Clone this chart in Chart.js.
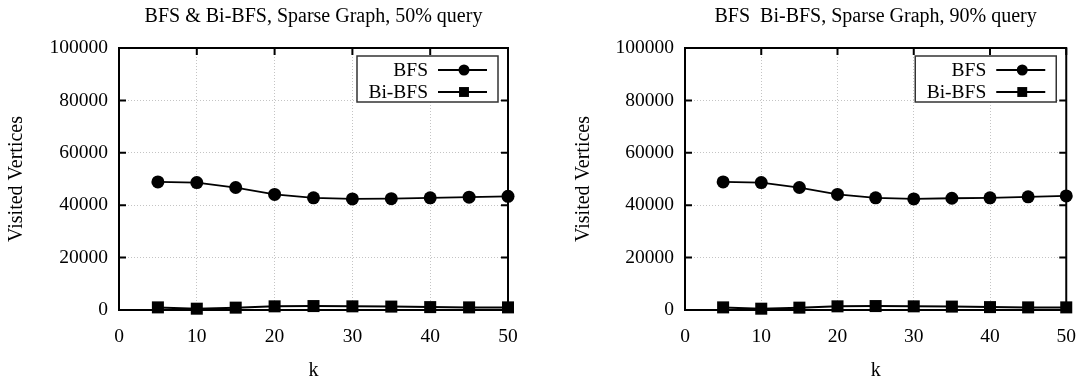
<!DOCTYPE html>
<html>
<head>
<meta charset="utf-8">
<script src="https://cdn.jsdelivr.net/npm/chart.js@4.4.1/dist/chart.umd.min.js"></script>
<style>
  html, body { margin: 0; padding: 0; background: #fff; }
  .row { display: flex; width: 1091px; height: 383px; }
  .cell { position: relative; height: 383px; }
  canvas { display: block; }
</style>
</head>
<body>
<div class="row">
  <div class="cell" style="width:545px"><canvas id="c50" width="545" height="383"></canvas></div>
  <div class="cell" style="width:546px"><canvas id="c90" width="546" height="383"></canvas></div>
</div>
<script>
// k values on the x axis
const kValues = [5, 10, 15, 20, 25, 30, 35, 40, 45, 50];

// 50% query
const bfs50   = [48900, 48650, 46750, 44100, 42800, 42400, 42500, 42800, 43050, 43400];
const bibfs50 = [1000, 500, 900, 1400, 1500, 1400, 1300, 1100, 1000, 1000];

// 90% query
const bfs90   = [48900, 48650, 46750, 44100, 42800, 42400, 42650, 42800, 43200, 43550];
const bibfs90 = [1000, 500, 900, 1400, 1500, 1400, 1300, 1100, 1000, 1000];

const xTicks = [0, 10, 20, 30, 40, 50];
const yTicks = [0, 20000, 40000, 60000, 80000, 100000];
const seriesNames = ['BFS', 'Bi-BFS'];
const chartTitles = ['BFS & Bi-BFS, Sparse Graph, 50% query', 'BFS  Bi-BFS, Sparse Graph, 90% query'];

Chart.defaults.font.family = '"Liberation Serif", "Times New Roman", serif';
Chart.defaults.color = '#000';

// gnuplot-like frame with inward ticks on all four sides
const framePlugin = {
  id: 'frame',
  beforeDatasetsDraw(chart) {
    const { ctx, chartArea: a, scales: { x, y } } = chart;
    ctx.save();
    ctx.strokeStyle = '#000';
    ctx.lineWidth = 2;
    ctx.beginPath();
    xTicks.forEach(v => {
      const px = x.getPixelForValue(v);
      ctx.moveTo(px, a.bottom); ctx.lineTo(px, a.bottom - 7);
      ctx.moveTo(px, a.top); ctx.lineTo(px, a.top + 7);
    });
    yTicks.forEach(v => {
      const py = y.getPixelForValue(v);
      ctx.moveTo(a.left, py); ctx.lineTo(a.left + 7, py);
      ctx.moveTo(a.right, py); ctx.lineTo(a.right - 7, py);
    });
    ctx.stroke();
    ctx.strokeRect(a.left, a.top, a.right - a.left, a.bottom - a.top);
    ctx.restore();
  }
};

// key box in the top right corner: text right aligned, sample on the right
const keyPlugin = {
  id: 'key',
  afterDatasetsDraw(chart) {
    const { ctx, chartArea: a } = chart;
    const w = 141, h = 46;
    const x0 = a.right - 10 - w, y0 = a.top + 8;
    ctx.save();
    ctx.fillStyle = '#fff';
    ctx.fillRect(x0, y0, w, h);
    ctx.strokeStyle = '#333';
    ctx.lineWidth = 1.5;
    ctx.strokeRect(x0, y0, w, h);
    ctx.font = '19.5px "Liberation Serif", "Times New Roman", serif';
    ctx.textAlign = 'right';
    ctx.textBaseline = 'middle';
    chart.data.datasets.forEach((ds, i) => {
      const cy = y0 + 14 + i * 22;
      ctx.fillStyle = '#000';
      ctx.fillText(ds.label, x0 + 71, cy + 1);
      ctx.strokeStyle = '#000';
      ctx.lineWidth = 2;
      ctx.beginPath();
      ctx.moveTo(x0 + 81, cy);
      ctx.lineTo(x0 + 130, cy);
      ctx.stroke();
      Chart.helpers.drawPoint(ctx, { pointStyle: ds.pointStyle, radius: ds.keyRadius, borderWidth: 0 }, x0 + 107, cy);
    });
    ctx.restore();
  }
};

function makeChart(id, title, bfs, bibfs, areaLeft, areaRight, yTitlePad) {
  const canvas = document.getElementById(id);
  const W = canvas.width, H = canvas.height;
  const toPoints = vals => kValues.map((k, i) => ({ x: k, y: vals[i] }));
  return new Chart(canvas, {
    type: 'line',
    data: {
      datasets: [
        { label: seriesNames[0], data: toPoints(bfs), borderColor: '#000', backgroundColor: '#000',
          borderWidth: 1.8, pointStyle: 'circle', pointRadius: 6.5, keyRadius: 5.5,
          pointBackgroundColor: '#000', pointBorderWidth: 0, clip: false },
        { label: seriesNames[1], data: toPoints(bibfs), borderColor: '#000', backgroundColor: '#000',
          borderWidth: 2, pointStyle: 'rect', pointRadius: 8.5, keyRadius: 7,
          pointBackgroundColor: '#000', pointBorderWidth: 0, clip: false }
      ]
    },
    options: {
      responsive: false,
      animation: false,
      layout: { padding: { left: 0, right: W - areaRight, top: 0, bottom: 0 } },
      plugins: {
        legend: { display: false },
        tooltip: { enabled: false },
        title: {
          display: true, text: title, fullSize: false,
          font: { size: 20, weight: 'normal' }, color: '#000',
          padding: { top: 5, bottom: 19 }
        }
      },
      scales: {
        x: {
          type: 'linear', min: 0, max: 50,
          afterFit: s => { s.height = H - 310; },
          ticks: { stepSize: 10, padding: 15, font: { size: 19.5 }, color: '#000', maxRotation: 0,
                   callback: v => String(v) },
          grid: { color: '#c4c4c4', lineWidth: 1, drawTicks: false },
          border: { display: false, dash: [1, 2] },
          title: { display: true, text: 'k', font: { size: 20 }, color: '#000', padding: { top: 0, bottom: 0 } }
        },
        y: {
          min: 0, max: 100000,
          afterFit: s => { s.width = areaLeft; },
          ticks: { stepSize: 20000, padding: 11, font: { size: 19.5 }, color: '#000',
                   callback: v => String(v) },
          grid: { color: '#c4c4c4', lineWidth: 1, drawTicks: false },
          border: { display: false, dash: [1, 2] },
          title: { display: true, text: 'Visited Vertices', font: { size: 20 }, color: '#000', padding: { top: yTitlePad, bottom: 0 } }
        }
      }
    },
    plugins: [framePlugin, keyPlugin]
  });
}

makeChart('c50', chartTitles[0], bfs50, bibfs50, 119, 508, 5);
makeChart('c90', chartTitles[1], bfs90, bibfs90, 140, 528, 27);
</script>
</body>
</html>
